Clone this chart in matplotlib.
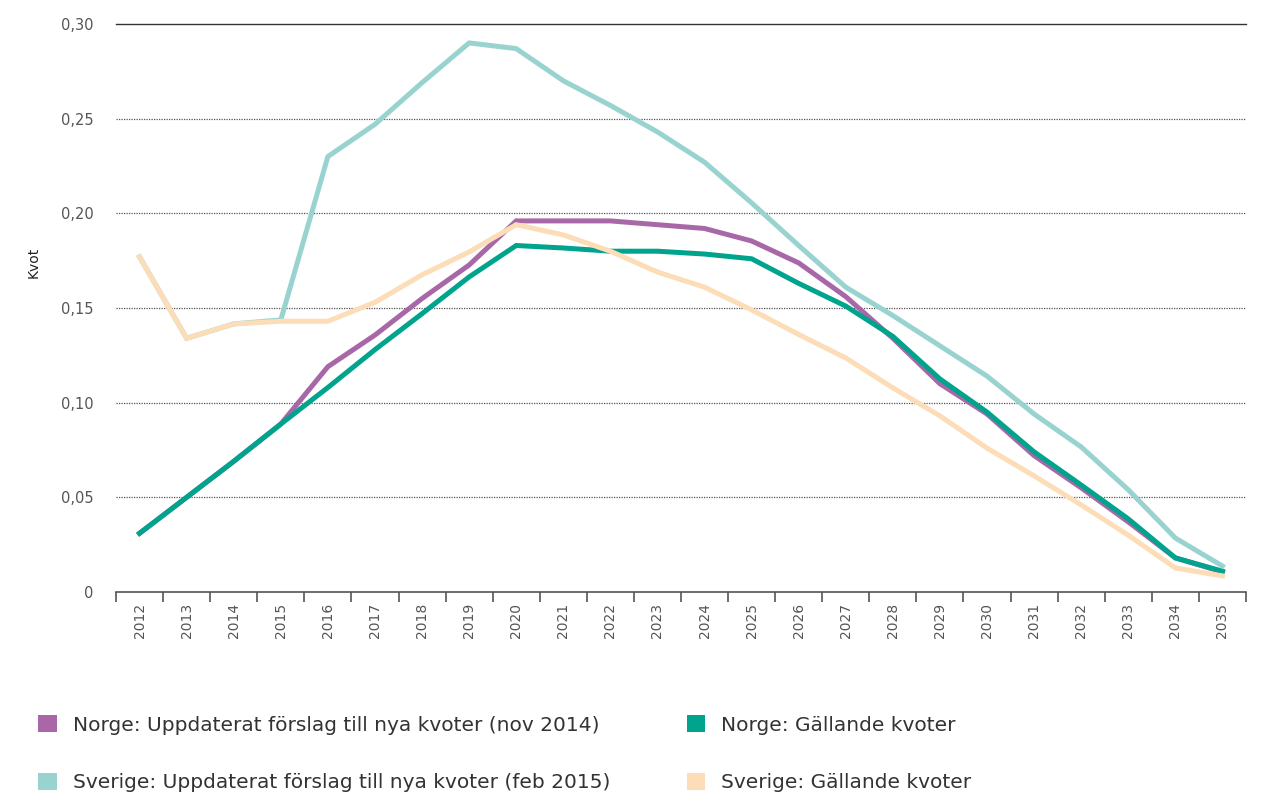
import matplotlib
matplotlib.use("Agg")
import matplotlib.pyplot as plt
from matplotlib.patches import Patch
from matplotlib.ticker import FixedLocator, FuncFormatter
import numpy as np

years = [str(y) for y in range(2012, 2036)]

norge_uppdaterat = [0.031, 0.050, 0.069, 0.0887, 0.119, 0.1357, 0.155, 0.1727, 0.196, 0.196,
                    0.196, 0.194, 0.192, 0.1854, 0.1738, 0.156, 0.134, 0.110, 0.094, 0.072,
                    0.055, 0.037, 0.018, 0.0106]
norge_gallande = [0.031, 0.050, 0.069, 0.0887, 0.108, 0.128, 0.147, 0.1664, 0.183, 0.1817,
                  0.180, 0.180, 0.1785, 0.176, 0.163, 0.151, 0.135, 0.1125, 0.095, 0.074,
                  0.0565, 0.0386, 0.018, 0.011]
sverige_uppdaterat = [0.177, 0.134, 0.1416, 0.1437, 0.230, 0.247, 0.269, 0.290, 0.287, 0.270,
                      0.257, 0.243, 0.227, 0.2055, 0.183, 0.161, 0.146, 0.130, 0.114, 0.094,
                      0.0766, 0.054, 0.0285, 0.0137]
sverige_gallande = [0.177, 0.134, 0.1416, 0.143, 0.143, 0.153, 0.1675, 0.1796, 0.194, 0.1886,
                    0.180, 0.169, 0.161, 0.149, 0.136, 0.1236, 0.1078, 0.093, 0.076, 0.0613,
                    0.046, 0.030, 0.0127, 0.0085]

labels = ["Norge: Uppdaterat förslag till nya kvoter (nov 2014)",
          "Sverige: Uppdaterat förslag till nya kvoter (feb 2015)",
          "Norge: Gällande kvoter",
          "Sverige: Gällande kvoter"]
c_purple = "#A868A8"
c_lteal = "#98D3CF"
c_teal = "#00A38C"
c_peach = "#FCDDB8"

plt.rcParams['font.family'] = ['DejaVu Sans']

fig = plt.figure(figsize=(12.66, 7.94), dpi=100)
ax = fig.add_axes([116/1266, 202/794, 1130/1266, 568/794])

x = np.arange(len(years))
lw = 3.6
ax.plot(x, norge_uppdaterat, color=c_purple, lw=lw, zorder=3, solid_joinstyle='miter')
ax.plot(x, norge_gallande, color=c_teal, lw=lw, zorder=4, solid_joinstyle='miter')
ax.plot(x, sverige_uppdaterat, color=c_lteal, lw=lw, zorder=5, solid_joinstyle='miter')
ax.plot(x, sverige_gallande, color=c_peach, lw=lw, zorder=6, solid_joinstyle='miter')

ax.set_xlim(-0.5, len(years) - 0.5)
ax.set_ylim(0, 0.30)

# gridlines
for v in [0.05, 0.10, 0.15, 0.20, 0.25]:
    ax.axhline(v, color="#555555", lw=0.9, ls=(0, (1, 1)), zorder=1)
ax.axhline(0.30, color="#333333", lw=1.0, zorder=1, clip_on=False)

for s in ["top", "right", "left"]:
    ax.spines[s].set_visible(False)
ax.spines["bottom"].set_color("#555555")
ax.spines["bottom"].set_linewidth(1.2)

ax.set_yticks([0, 0.05, 0.10, 0.15, 0.20, 0.25, 0.30])
ax.yaxis.set_major_formatter(FuncFormatter(lambda v, p: "0" if v == 0 else f"{v:.2f}".replace(".", ",")))
ax.tick_params(axis="y", length=0, pad=16, labelsize=10.5, labelcolor="#555555")

ax.set_xticks(x)
ax.set_xticklabels(years, rotation=90)
ax.tick_params(axis="x", which="major", length=0, pad=8, labelsize=10, labelcolor="#555555")
ax.xaxis.set_minor_locator(FixedLocator(np.arange(-0.5, len(years), 1.0)))
ax.tick_params(axis="x", which="minor", length=7, width=1.2, color="#555555", direction="out")

ax.set_ylabel("Kvot", fontsize=10, color="#222222")
ax.yaxis.set_label_coords(-0.0667, (592 - 262) / 568)

handles = [Patch(facecolor=c_purple, edgecolor="none"),
           Patch(facecolor=c_lteal, edgecolor="none"),
           Patch(facecolor=c_teal, edgecolor="none"),
           Patch(facecolor=c_peach, edgecolor="none")]
fig.legend(handles, labels, ncol=2, loc="upper left", bbox_to_anchor=(20/1266, 1 - 697/794),
           frameon=False, fontsize=14.5, handlelength=0.92, handleheight=0.92,
           handletextpad=0.8, labelspacing=1.9, columnspacing=3.8, labelcolor="#333333")

fig.savefig("out.png", dpi=100)
